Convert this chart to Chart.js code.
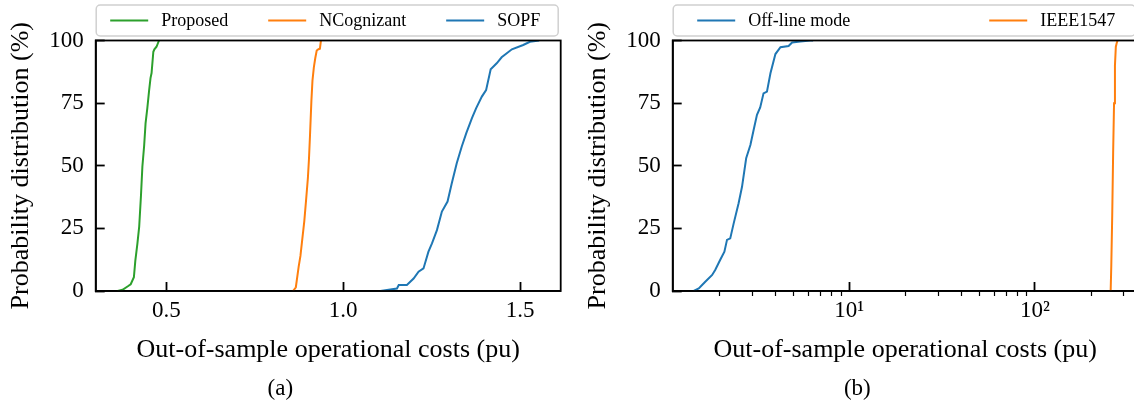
<!DOCTYPE html>
<html>
<head>
<meta charset="utf-8">
<script src="https://cdn.jsdelivr.net/npm/chart.js@4"></script>
<style>
  html, body { margin: 0; padding: 0; background: #fff; overflow: hidden; width: 1134px; height: 406px; }
  #wrap-a { position: absolute; left: 0; top: 0; width: 567px; height: 406px; }
  #wrap-b { position: absolute; left: 577px; top: 0; width: 567px; height: 406px; }
</style>
</head>
<body>
<div id="wrap-a"><canvas id="chart-a" width="567" height="406"></canvas></div>
<div id="wrap-b"><canvas id="chart-b" width="567" height="406"></canvas></div>
<script>
// (a) empirical CDFs, linear cost axis
var proposedCost = [0.362, 0.376, 0.392, 0.399, 0.408, 0.412, 0.418, 0.423, 0.428, 0.432, 0.437, 0.441, 0.446, 0.451, 0.455, 0.458, 0.463, 0.466, 0.472, 0.479];
var proposedProb = [0, 0.5, 2, 2.7, 5.5, 12, 19, 25.7, 38, 49.6, 58, 66.9, 73, 80, 85, 87, 95.5, 96.5, 97.5, 100];

var ncognizantCost = [0.858, 0.866, 0.874, 0.879, 0.884, 0.890, 0.895, 0.900, 0.903, 0.906, 0.910, 0.913, 0.917, 0.921, 0.925, 0.930, 0.934, 0.937];
var ncognizantProb = [0, 1.5, 9.7, 14, 20.4, 28, 36.4, 45, 52.4, 62, 76, 84, 89.4, 93, 96, 96.5, 96.7, 100];

var sopfCost = [1.105, 1.152, 1.157, 1.180, 1.199, 1.213, 1.227, 1.241, 1.251, 1.265, 1.279, 1.295, 1.307, 1.321, 1.335, 1.348, 1.364, 1.376, 1.392, 1.404, 1.417, 1.434, 1.448, 1.477, 1.509, 1.528, 1.554];
var sopfProb = [0, 1, 2.4, 2.4, 5, 7.7, 9, 15.7, 19, 24.3, 31.7, 35.7, 43, 51, 57.6, 63, 69, 73, 77.6, 80.2, 88.5, 90.9, 93.3, 96.5, 98.2, 99.5, 100];

// (b) empirical CDFs, log cost axis
var offlineCost = [1.456, 1.55, 1.68, 1.83, 1.90, 2.02, 2.13, 2.20, 2.29, 2.39, 2.54, 2.65, 2.79, 2.94, 3.06, 3.19, 3.32, 3.46, 3.61, 3.77, 4.01, 4.27, 4.72, 4.93, 5.46, 6.18, 6.4];
var offlineProb = [0, 1, 3.7, 6.4, 8.4, 12.4, 15.7, 20.4, 21, 27, 35, 41.6, 53, 58.3, 64.3, 70.3, 73.3, 78.9, 79.6, 86.9, 94.6, 97.3, 97.8, 99.2, 99.6, 100, 100];

var ieeeCost = [256, 258, 261, 264, 267, 270, 273, 276, 279];
var ieeeProb = [0, 10, 30, 55, 75, 90, 97.5, 99, 100];

var yTicks = [0, 25, 50, 75, 100];
var xTicksA = [0.5, 1.0, 1.5];
var xLabelsA = ["0.5", "1.0", "1.5"];
var xTicksB = [10, 100];
var xLabelsB = ["10\u00B9", "10\u00B2"];
var xMinorB = [2, 3, 4, 5, 6, 7, 8, 9, 20, 30, 40, 50, 60, 70, 80, 90, 200, 300];

var GREEN = "#2ca02c", ORANGE = "#ff7f0e", BLUE = "#1f77b4";
var SERIF = '"Liberation Serif", "Times New Roman", serif';

Chart.defaults.font.family = SERIF;
Chart.defaults.color = "#000";

function pts(xs, ys) {
  return xs.map(function (x, i) { return { x: x, y: ys[i] }; });
}

function series(label, xs, ys, color) {
  return {
    label: label,
    data: pts(xs, ys),
    borderColor: color,
    backgroundColor: color,
    borderWidth: 2,
    pointRadius: 0,
    tension: 0,
    fill: false
  };
}

// legend drawn like matplotlib mode="expand": framed box above the axes
var boxLegend = {
  id: "boxLegend",
  afterDraw: function (chart, args, opts) {
    var ctx = chart.ctx, a = chart.chartArea;
    var x0 = a.left + 0.5, x1 = a.right - 2.5, y0 = 5, y1 = 36;
    ctx.save();
    ctx.fillStyle = "rgba(255,255,255,0.8)";
    ctx.strokeStyle = "#d0d0d0";
    ctx.lineWidth = 1.5;
    ctx.beginPath();
    ctx.roundRect(x0, y0, x1 - x0, y1 - y0, 4);
    ctx.fill();
    ctx.stroke();
    ctx.font = "18px " + SERIF;
    var items = chart.data.datasets.map(function (d) {
      return { label: d.label, color: d.borderColor, w: 38 + 13 + ctx.measureText(d.label).width };
    });
    var total = items.reduce(function (s, it) { return s + it.w; }, 0);
    var gap = ((x1 - x0) - opts.padL - opts.padR - total) / (items.length - 1);
    var x = x0 + opts.padL, yc = (y0 + y1) / 2;
    ctx.textBaseline = "middle";
    ctx.textAlign = "left";
    items.forEach(function (it) {
      ctx.strokeStyle = it.color;
      ctx.lineWidth = 2;
      ctx.beginPath();
      ctx.moveTo(x, yc);
      ctx.lineTo(x + 38, yc);
      ctx.stroke();
      ctx.fillStyle = "#000";
      ctx.fillText(it.label, x + 51, yc + 1);
      x += it.w + gap;
    });
    ctx.restore();
  }
};

// full spine box + optional outward minor ticks
var spines = {
  id: "spines",
  afterDatasetsDraw: function (chart, args, opts) {
    var ctx = chart.ctx, a = chart.chartArea;
    ctx.save();
    ctx.strokeStyle = "#000";
    if (opts.minor) {
      var sx = chart.scales.x;
      ctx.lineWidth = 1.2;
      opts.minor.forEach(function (v) {
        var px = Math.round(sx.getPixelForValue(v)) + 0.5;
        if (px < a.left || px > a.right) return;
        ctx.beginPath();
        ctx.moveTo(px, a.bottom);
        ctx.lineTo(px, a.bottom + 5);
        ctx.stroke();
      });
    }
    ctx.lineWidth = 1.8;
    ctx.strokeRect(a.left, a.top, a.right - a.left, a.bottom - a.top);
    ctx.restore();
  }
};

function makeOptions(xScale, legendPad, minor) {
  return {
    responsive: false,
    animation: false,
    layout: { padding: { top: 40.5, right: 6.3, left: 0, bottom: 0 } },
    plugins: {
      legend: { display: false },
      tooltip: { enabled: false },
      boxLegend: legendPad,
      spines: { minor: minor }
    },
    scales: {
      x: xScale,
      y: {
        type: "linear",
        min: 0,
        max: 100,
        afterBuildTicks: function (s) { s.ticks = yTicks.map(function (v) { return { value: v }; }); },
        afterFit: function (s) { s.width = 95.7; },
        grid: { drawOnChartArea: false, tickLength: -9, tickWidth: 1.8, tickColor: "#000" },
        border: { color: "#000", width: 1.8 },
        ticks: { padding: 21, font: { size: 23 } },
        title: { display: true, text: "Probability distribution (%)", font: { size: 26 }, padding: { top: 6 } }
      }
    }
  };
}

function xAxis(type, min, max, ticks, labels) {
  return {
    type: type,
    min: min,
    max: max,
    afterBuildTicks: function (s) { s.ticks = ticks.map(function (v) { return { value: v }; }); },
    afterFit: function (s) { s.height = 84.4; },
    grid: { drawOnChartArea: false, tickLength: -9, tickWidth: 1.8, tickColor: "#000" },
    border: { color: "#000", width: 1.8 },
    ticks: {
      padding: 15,
      maxRotation: 0,
      font: { size: 23 },
      callback: function (value) { return labels[ticks.indexOf(value)]; }
    },
    title: { display: true, text: "Out-of-sample operational costs (pu)", font: { size: 26 }, padding: { top: 0, bottom: 10 } }
  };
}

function caption(text) {
  return { display: true, position: "bottom", text: text, font: { size: 23, weight: "normal" }, padding: { top: 0, bottom: 3 } };
}

var optsA = makeOptions(xAxis("linear", 0.30, 1.615, xTicksA, xLabelsA), { padL: 14, padR: 18 }, null);
optsA.plugins.title = caption("(a)");
new Chart(document.getElementById("chart-a").getContext("2d"), {
  type: "line",
  data: {
    datasets: [
      series("Proposed", proposedCost, proposedProb, GREEN),
      series("NCognizant", ncognizantCost, ncognizantProb, ORANGE),
      series("SOPF", sopfCost, sopfProb, BLUE)
    ]
  },
  options: optsA,
  plugins: [boxLegend, spines]
});

var optsB = makeOptions(xAxis("logarithmic", 1.122, 358, xTicksB, xLabelsB), { padL: 24, padR: 20 }, xMinorB);
optsB.plugins.title = caption("(b)");
new Chart(document.getElementById("chart-b").getContext("2d"), {
  type: "line",
  data: {
    datasets: [
      series("Off-line mode", offlineCost, offlineProb, BLUE),
      series("IEEE1547", ieeeCost, ieeeProb, ORANGE)
    ]
  },
  options: optsB,
  plugins: [boxLegend, spines]
});
</script>
</body>
</html>
